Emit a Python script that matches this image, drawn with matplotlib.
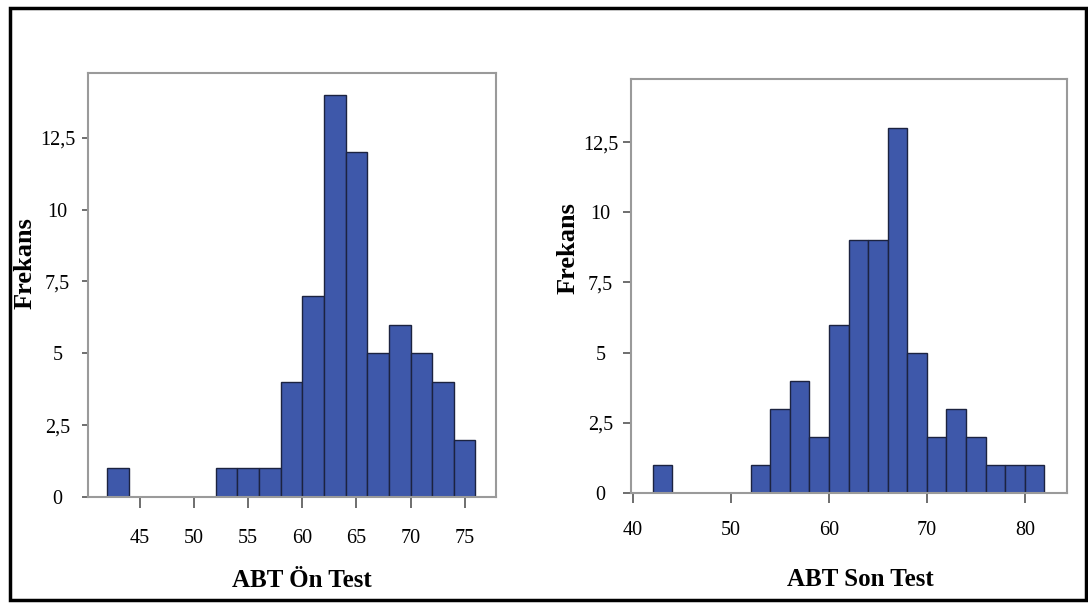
import numpy as np
import matplotlib
matplotlib.use("Agg")
import matplotlib.pyplot as plt
from matplotlib.patches import Rectangle

plt.rcParams["font.family"] = ["Liberation Serif", "DejaVu Serif"]

# histogram data: bin start (width 2) and frequency
pre_bins = [42, 44, 46, 48, 50, 52, 54, 56, 58, 60, 62, 64, 66, 68, 70, 72, 74]
pre_counts = [1, 0, 0, 0, 0, 1, 1, 1, 4, 7, 14, 12, 5, 6, 5, 4, 2]
post_bins = [42, 44, 46, 48, 50, 52, 54, 56, 58, 60, 62, 64, 66, 68, 70, 72, 74, 76, 78, 80]
post_counts = [1, 0, 0, 0, 0, 1, 3, 4, 2, 6, 9, 9, 13, 5, 2, 3, 2, 1, 1, 1]
bin_width = 2

y_ticks = [0, 2.5, 5, 7.5, 10, 12.5]
y_ticklabels = ["0", "2,5", "5", "7,5", "10", "12,5"]
pre_xticks = [45, 50, 55, 60, 65, 70, 75]
post_xticks = [40, 50, 60, 70, 80]

BAR = "#3e58aa"
EDGE = "#1c2340"
SPINE = "#9a9a9a"

fig = plt.figure(figsize=(10.88, 6.03), dpi=100)

# outer frame
fig.patches.append(Rectangle((10 / 1088, 3 / 603), 1076 / 1088, 592 / 603,
                             transform=fig.transFigure, fill=False,
                             edgecolor="black", linewidth=2.5))


def draw_hist(ax, bins, counts, xlim, xticks, xlabel, xpad, ypad, ylen, xlen):
    bins = np.asarray(bins)
    counts = np.asarray(counts)
    keep = counts > 0
    ax.bar(bins[keep], counts[keep], width=bin_width, align="edge",
           color=BAR, edgecolor=EDGE, linewidth=1.0)
    ax.set_xlim(*xlim)
    ax.set_ylim(0, 14.75)
    for s in ax.spines.values():
        s.set_color(SPINE)
        s.set_linewidth(1.5)
    ax.set_yticks(y_ticks)
    ax.set_yticklabels(y_ticklabels)
    ax.set_xticks(xticks)
    ax.tick_params(axis="y", length=ylen, width=1.2, color="#555555",
                   pad=ypad, labelsize=14.5)
    ax.tick_params(axis="x", length=xlen, width=1.2, color="#555555",
                   pad=xpad, labelsize=14.5)
    for lab in ax.get_yticklabels():
        lab.set_horizontalalignment("center")
    ax.set_xlabel(xlabel, fontsize=18, fontweight="bold")
    ax.set_ylabel("Frekans", fontsize=19, fontweight="bold")


ax1 = fig.add_axes([88 / 1088, 1 - 497 / 603, 408 / 1088, 424 / 603])
draw_hist(ax1, pre_bins, pre_counts, (40.2, 77.9), pre_xticks,
          "ABT Ön Test", xpad=15, ypad=18, ylen=4, xlen=8)
ax1.xaxis.set_label_coords(0.525, -0.196)
ax1.xaxis.label.set_verticalalignment("center")
ax1.yaxis.set_label_coords(-0.154, 0.552)
ax1.yaxis.label.set_verticalalignment("center")

ax2 = fig.add_axes([631 / 1088, 1 - 493 / 603, 436 / 1088, 414 / 603])
draw_hist(ax2, post_bins, post_counts, (39.8, 84.3), post_xticks,
          "ABT Son Test", xpad=13, ypad=16, ylen=6, xlen=7)
ax2.xaxis.set_label_coords(0.525, -0.208)
ax2.xaxis.label.set_verticalalignment("center")
ax2.yaxis.set_label_coords(-0.1445, 0.592)
ax2.yaxis.label.set_verticalalignment("center")

fig.savefig("out.png", dpi=100)
